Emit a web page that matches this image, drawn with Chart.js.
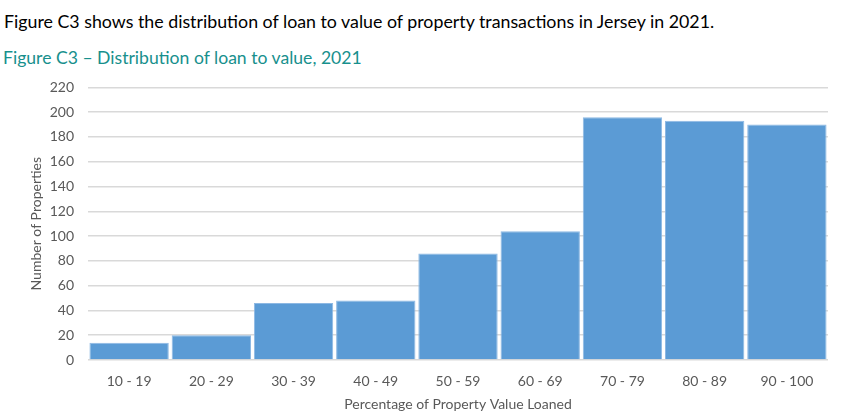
<!DOCTYPE html>
<html>
<head>
<meta charset="utf-8">
<script src="https://cdn.jsdelivr.net/npm/chart.js@4.4.1/dist/chart.umd.min.js"></script>
<style>
  body { margin: 0; background: #fff; width: 841px; height: 417px; overflow: hidden; font-family: Lato, "Open Sans", sans-serif; }
  #intro { position: absolute; left: 4px; top: 10px; font-size: 17.8px; color: #000; white-space: nowrap; }
  #figTitle { position: absolute; left: 3px; top: 47px; font-size: 17.6px; color: #17908d; white-space: nowrap; }
  #box { position: absolute; left: 0; top: 65px; width: 841px; height: 352px; }
</style>
</head>
<body>
<div id="intro">Figure C3 shows the distribution of loan to value of property transactions in Jersey in 2021.</div>
<div id="figTitle">Figure C3 – Distribution of loan to value, 2021</div>
<div id="box"><canvas id="chart"></canvas></div>
<script>
// loan to value bands and number of properties in each
const bands = ["10 - 19", "20 - 29", "30 - 39", "40 - 49", "50 - 59", "60 - 69", "70 - 79", "80 - 89", "90 - 100"];
const properties = [14, 20, 46, 48, 86, 104, 196, 193, 190];

const TICK_COLOR = "#595959";
const GRID_COLOR = "#d9d9d9";

function makeChart() {
  const ctx = document.getElementById("chart").getContext("2d");
  new Chart(ctx, {
    type: "bar",
    data: {
      labels: bands,
      datasets: [
        {
          label: "Number of Properties",
          data: properties,
          backgroundColor: "#5b9bd5",
          borderColor: "#8db8e3",
          borderWidth: 1,
          barPercentage: 1,
          categoryPercentage: 0.965,
        },
      ],
    },
    options: {
      responsive: true,
      maintainAspectRatio: false,
      animation: false,
      layout: { padding: { top: 0, right: 13, bottom: 0, left: 28 } },
      plugins: { legend: { display: false }, tooltip: { enabled: false } },
      scales: {
        x: {
          grid: { display: false },
          border: { display: false },
          ticks: { color: TICK_COLOR, font: { family: "Lato", size: 14 }, padding: 5 },
          title: {
            display: true,
            text: "Percentage of Property Value Loaned",
            color: TICK_COLOR,
            font: { family: "Lato", size: 14 },
            padding: { top: 4, bottom: 4 },
          },
          afterFit: (scale) => { scale.height = 57; },
        },
        y: {
          min: 0,
          max: 220,
          ticks: { stepSize: 20, color: TICK_COLOR, font: { family: "Lato", size: 14 }, padding: 14 },
          grid: { color: GRID_COLOR, lineWidth: 1.5, drawTicks: false },
          border: { display: false },
          title: {
            display: true,
            text: "Number of Properties",
            color: TICK_COLOR,
            font: { family: "Lato", size: 14 },
            padding: { top: 0, bottom: 0 },
          },
          afterFit: (scale) => { scale.width = 60; },
        },
      },
    },
  });
}

makeChart();
</script>
</body>
</html>
